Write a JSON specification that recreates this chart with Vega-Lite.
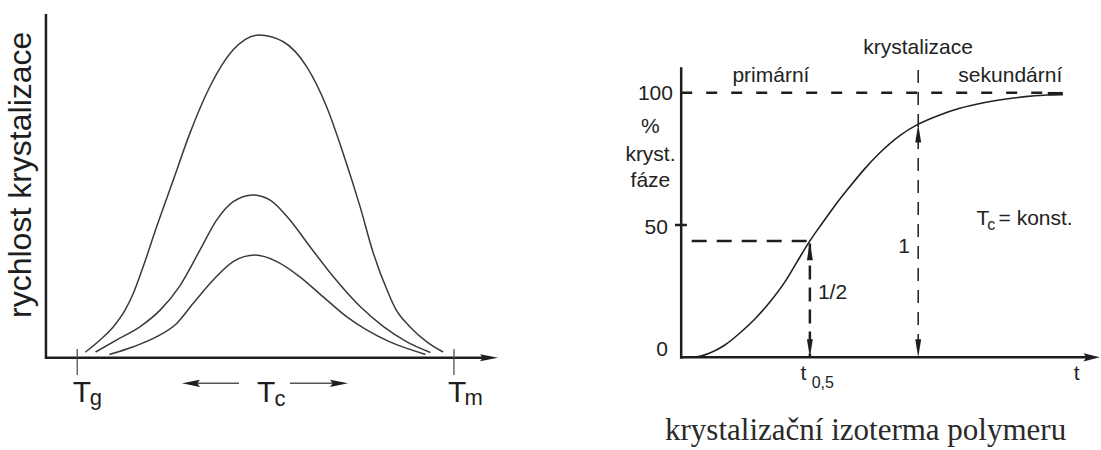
{
  "$schema": "https://vega.github.io/schema/vega-lite/v6.json",
  "background": "white",
  "padding": 0,
  "spacing": 0,
  "config": {"view": {"stroke": null}, "font": "Liberation Sans"},
  "resolve": {"scale": {"shape": "independent"}},
  "hconcat": [
    {
      "width": 550,
      "height": 450,
      "encoding": {
        "x": {"field": "temp", "type": "quantitative", "scale": {"domain": [-20.5, 125.5], "nice": false, "zero": false}, "axis": null},
        "y": {"field": "rate", "type": "quantitative", "scale": {"domain": [-28.5, 110.5], "nice": false, "zero": false}, "axis": null}
      },
      "layer": [
        {
          "data": {"values": [
            {"curve": "A", "temp": 2.3, "rate": 1.85}, {"curve": "A", "temp": 6.05, "rate": 5.5}, {"curve": "A", "temp": 9.6, "rate": 9.6}, {"curve": "A", "temp": 12.7, "rate": 14.7}, {"curve": "A", "temp": 14.9, "rate": 19.9}, {"curve": "A", "temp": 17.5, "rate": 28.1}, {"curve": "A", "temp": 21.1, "rate": 40.5}, {"curve": "A", "temp": 25.5, "rate": 54.9}, {"curve": "A", "temp": 29.9, "rate": 69.3}, {"curve": "A", "temp": 35.2, "rate": 83.7}, {"curve": "A", "temp": 41.4, "rate": 95.1}, {"curve": "A", "temp": 48.3, "rate": 99.7}, {"curve": "A", "temp": 54.7, "rate": 97.6}, {"curve": "A", "temp": 60.9, "rate": 89.9}, {"curve": "A", "temp": 66.2, "rate": 77.5}, {"curve": "A", "temp": 70.6, "rate": 63.1}, {"curve": "A", "temp": 75.1, "rate": 46.6}, {"curve": "A", "temp": 78.6, "rate": 32.3}, {"curve": "A", "temp": 82.6, "rate": 19.9}, {"curve": "A", "temp": 84.4, "rate": 15.3}, {"curve": "A", "temp": 88.3, "rate": 9.6}, {"curve": "A", "temp": 92.8, "rate": 4.9}, {"curve": "A", "temp": 97.0, "rate": 1.85},
            {"curve": "B", "temp": 5.0, "rate": 1.85}, {"curve": "B", "temp": 10.5, "rate": 5.5}, {"curve": "B", "temp": 16.7, "rate": 9.6}, {"curve": "B", "temp": 22.0, "rate": 14.7}, {"curve": "B", "temp": 27.3, "rate": 22.3}, {"curve": "B", "temp": 32.6, "rate": 33.3}, {"curve": "B", "temp": 37.0, "rate": 42.5}, {"curve": "B", "temp": 41.4, "rate": 48.2}, {"curve": "B", "temp": 46.6, "rate": 50.3}, {"curve": "B", "temp": 51.2, "rate": 48.7}, {"curve": "B", "temp": 56.5, "rate": 42.5}, {"curve": "B", "temp": 61.8, "rate": 34.3}, {"curve": "B", "temp": 68.0, "rate": 25.0}, {"curve": "B", "temp": 75.1, "rate": 15.8}, {"curve": "B", "temp": 81.3, "rate": 9.6}, {"curve": "B", "temp": 87.5, "rate": 4.9}, {"curve": "B", "temp": 93.6, "rate": 1.7},
            {"curve": "C", "temp": 8.7, "rate": 1.05}, {"curve": "C", "temp": 14.9, "rate": 3.4}, {"curve": "C", "temp": 21.1, "rate": 6.5}, {"curve": "C", "temp": 26.4, "rate": 10.6}, {"curve": "C", "temp": 30.8, "rate": 16.8}, {"curve": "C", "temp": 36.1, "rate": 24.0}, {"curve": "C", "temp": 41.4, "rate": 29.7}, {"curve": "C", "temp": 47.2, "rate": 31.7}, {"curve": "C", "temp": 53.0, "rate": 29.7}, {"curve": "C", "temp": 59.1, "rate": 25.0}, {"curve": "C", "temp": 65.3, "rate": 18.8}, {"curve": "C", "temp": 71.5, "rate": 12.7}, {"curve": "C", "temp": 76.8, "rate": 8.6}, {"curve": "C", "temp": 83.0, "rate": 4.9}, {"curve": "C", "temp": 92.3, "rate": 1.1}
          ]},
          "mark": {"type": "line", "interpolate": "monotone", "stroke": "#3a3a3a", "strokeWidth": 1.5, "strokeCap": "round"},
          "encoding": {"detail": {"field": "curve"}}
        },
        {
          "data": {"values": [
            {"temp": -8.3, "temp2": -8.3, "rate": -0.4, "rate2": 106.2},
            {"temp": -8.3, "temp2": 109.5, "rate": 0, "rate2": 0}
          ]},
          "mark": {"type": "rule", "stroke": "#1e1e1e", "strokeWidth": 2.5},
          "encoding": {"x2": {"field": "temp2"}, "y2": {"field": "rate2"}}
        },
        {
          "data": {"values": [
            {"temp": 0, "temp2": 0, "rate": 2.7, "rate2": -5.3},
            {"temp": 100, "temp2": 100, "rate": 2.7, "rate2": -5.3}
          ]},
          "mark": {"type": "rule", "stroke": "#444444", "strokeWidth": 1.2},
          "encoding": {"x2": {"field": "temp2"}, "y2": {"field": "rate2"}}
        },
        {
          "data": {"values": [
            {"temp": 29.5, "temp2": 42.95, "rate": -7.9, "rate2": -7.9},
            {"temp": 56.48, "temp2": 70.0, "rate": -7.9, "rate2": -7.9}
          ]},
          "mark": {"type": "rule", "stroke": "#555555", "strokeWidth": 1.5},
          "encoding": {"x2": {"field": "temp2"}, "y2": {"field": "rate2"}}
        },
        {
          "data": {"values": [
            {"temp": 111.7, "rate": 0, "dir": "right"},
            {"temp": 27.81, "rate": -7.9, "dir": "left"},
            {"temp": 71.88, "rate": -7.9, "dir": "right"}
          ]},
          "mark": {"type": "point", "filled": true, "opacity": 1, "size": 324, "color": "#1e1e1e", "strokeWidth": 0},
          "encoding": {"shape": {"field": "dir", "type": "nominal", "legend": null, "scale": {"domain": ["left", "right"], "range": ["M0,0L2,-0.4L1.7,0L2,0.4Z", "M0,0L-2,-0.4L-1.7,0L-2,0.4Z"]}}}
        },
        {
          "data": {"values": [{"temp": -12.3, "rate": 56.5, "label": "rychlost krystalizace"}]},
          "mark": {"type": "text", "angle": 270, "fontSize": 32, "align": "center", "baseline": "alphabetic", "color": "#1e1e1e"},
          "encoding": {"text": {"field": "label"}}
        },
        {
          "data": {"values": [
            {"temp": -1.2, "rate": -13.6, "label": "T"},
            {"temp": 47.7, "rate": -13.6, "label": "T"},
            {"temp": 98.4, "rate": -13.6, "label": "T"}
          ]},
          "mark": {"type": "text", "fontSize": 30, "align": "left", "baseline": "alphabetic", "color": "#1e1e1e"},
          "encoding": {"text": {"field": "label"}}
        },
        {
          "data": {"values": [
            {"temp": 3.3, "rate": -14.6, "label": "g"},
            {"temp": 52.4, "rate": -14.9, "label": "c"},
            {"temp": 102.8, "rate": -14.6, "label": "m"}
          ]},
          "mark": {"type": "text", "fontSize": 22, "align": "left", "baseline": "alphabetic", "color": "#1e1e1e"},
          "encoding": {"text": {"field": "label"}}
        }
      ]
    },
    {
      "width": 551,
      "height": 450,
      "encoding": {
        "x": {"field": "t", "type": "quantitative", "scale": {"domain": [-5.25, 16.8], "nice": false, "zero": false}, "axis": null},
        "y": {"field": "pct", "type": "quantitative", "scale": {"domain": [-35, 135], "nice": false, "zero": false}, "axis": null}
      },
      "layer": [
        {
          "data": {"values": [
            {"t": 0.42, "t2": 5.15, "pct": 44.0, "pct2": 44.0}
          ]},
          "mark": {"type": "rule", "stroke": "#1e1e1e", "strokeWidth": 2.5, "strokeDash": [15, 10]},
          "encoding": {"x2": {"field": "t2"}, "y2": {"field": "pct2"}}
        },
        {
          "data": {"values": [
            {"t": 0, "t2": 14.67, "pct": 100, "pct2": 100}
          ]},
          "mark": {"type": "rule", "stroke": "#1e1e1e", "strokeWidth": 2.5, "strokeDash": [11, 14]},
          "encoding": {"x2": {"field": "t2"}, "y2": {"field": "pct2"}}
        },
        {
          "data": {"values": [
            {"t": 5.15, "t2": 5.15, "pct": 43.0, "pct2": 0}
          ]},
          "mark": {"type": "rule", "stroke": "#1e1e1e", "strokeWidth": 2.5, "strokeDash": [14, 8]},
          "encoding": {"x2": {"field": "t2"}, "y2": {"field": "pct2"}}
        },
        {
          "data": {"values": [
            {"t": 9.485, "t2": 9.485, "pct": 108.6, "pct2": 0}
          ]},
          "mark": {"type": "rule", "stroke": "#1e1e1e", "strokeWidth": 1.5, "strokeDash": [13, 9]},
          "encoding": {"x2": {"field": "t2"}, "y2": {"field": "pct2"}}
        },
        {
          "data": {"values": [
            {"t": 0, "pct": 0}, {"t": 0.55, "pct": 0.13}, {"t": 1.15, "pct": 1.64}, {"t": 1.75, "pct": 4.66}, {"t": 2.35, "pct": 9.2}, {"t": 2.95, "pct": 14.5}, {"t": 3.55, "pct": 20.9}, {"t": 4.15, "pct": 28.5}, {"t": 4.63, "pct": 36.0}, {"t": 5.15, "pct": 44.0}, {"t": 5.63, "pct": 50.5}, {"t": 6.15, "pct": 57.3}, {"t": 6.75, "pct": 64.5}, {"t": 7.35, "pct": 71.3}, {"t": 7.95, "pct": 77.3}, {"t": 8.75, "pct": 83.8}, {"t": 9.47, "pct": 88.0}, {"t": 10.35, "pct": 91.6}, {"t": 11.15, "pct": 94.1}, {"t": 12.15, "pct": 96.3}, {"t": 13.15, "pct": 97.8}, {"t": 14.15, "pct": 98.8}, {"t": 15.27, "pct": 99.4}
          ]},
          "mark": {"type": "line", "interpolate": "monotone", "stroke": "#222222", "strokeWidth": 1.6},
          "encoding": {}
        },
        {
          "data": {"values": [
            {"t": 14.67, "t2": 15.27, "pct": 99.6, "pct2": 99.6}
          ]},
          "mark": {"type": "rule", "stroke": "#1e1e1e", "strokeWidth": 3.5},
          "encoding": {"x2": {"field": "t2"}, "y2": {"field": "pct2"}}
        },
        {
          "data": {"values": [
            {"t": 0, "t2": 0, "pct": -0.5, "pct2": 109.6},
            {"t": 0, "t2": 16.3, "pct": 0, "pct2": 0},
            {"t": -0.25, "t2": 0.23, "pct": 50, "pct2": 50}
          ]},
          "mark": {"type": "rule", "stroke": "#1e1e1e", "strokeWidth": 2.5},
          "encoding": {"x2": {"field": "t2"}, "y2": {"field": "pct2"}}
        },
        {
          "data": {"values": [
            {"t": 16.75, "pct": 0, "dir": "right"},
            {"t": 5.15, "pct": 43.5, "dir": "up"},
            {"t": 5.15, "pct": 0, "dir": "down"},
            {"t": 9.485, "pct": 88.0, "dir": "up"},
            {"t": 9.485, "pct": 0, "dir": "down"}
          ]},
          "mark": {"type": "point", "filled": true, "opacity": 1, "size": 324, "color": "#1e1e1e", "strokeWidth": 0},
          "encoding": {"shape": {"field": "dir", "type": "nominal", "legend": null, "scale": {"domain": ["right", "up", "down"], "range": ["M0,0L-1.8,-0.45L-1.5,0L-1.8,0.45Z", "M0,0L0.33,2L-0.33,2Z", "M0,0L0.33,-2L-0.33,-2Z"]}}}
        },
        {
          "data": {"values": [
            {"t": -1.23, "pct": 84.8, "label": "%"},
            {"t": -1.23, "pct": 74.2, "label": "kryst."},
            {"t": -1.23, "pct": 64.2, "label": "fáze"},
            {"t": 3.59, "pct": 104.0, "label": "primární"},
            {"t": 9.48, "pct": 114.5, "label": "krystalizace"},
            {"t": 13.17, "pct": 104.1, "label": "sekundární"},
            {"t": 15.83, "pct": -8.6, "label": "t"},
            {"t": 4.89, "pct": -8.6, "label": "t"}
          ]},
          "mark": {"type": "text", "fontSize": 21, "align": "center", "baseline": "alphabetic", "color": "#222222"},
          "encoding": {"text": {"field": "label"}}
        },
        {
          "data": {"values": [
            {"t": -0.33, "pct": 99.5, "label": "100"},
            {"t": -0.53, "pct": 48.8, "label": "50"},
            {"t": -0.53, "pct": 2.8, "label": "0"},
            {"t": 9.15, "pct": 41.7, "label": "1"}
          ]},
          "mark": {"type": "text", "fontSize": 21, "align": "right", "baseline": "middle", "color": "#222222"},
          "encoding": {"text": {"field": "label"}}
        },
        {
          "data": {"values": [
            {"t": 5.47, "pct": 24.3, "label": "1/2"}
          ]},
          "mark": {"type": "text", "fontSize": 21, "align": "left", "baseline": "middle", "color": "#222222"},
          "encoding": {"text": {"field": "label"}}
        },
        {
          "data": {"values": [
            {"t": 11.82, "pct": 50.0, "label": "T"},
            {"t": 12.7, "pct": 50.0, "label": "= konst."}
          ]},
          "mark": {"type": "text", "fontSize": 21, "align": "left", "baseline": "alphabetic", "color": "#222222"},
          "encoding": {"text": {"field": "label"}}
        },
        {
          "data": {"values": [
            {"t": 12.25, "pct": 48.1, "label": "c"},
            {"t": 5.22, "pct": -11.6, "label": "0,5"}
          ]},
          "mark": {"type": "text", "fontSize": 16, "align": "left", "baseline": "alphabetic", "color": "#222222"},
          "encoding": {"text": {"field": "label"}}
        },
        {
          "data": {"values": [
            {"t": 7.38, "pct": -31.2, "label": "krystalizační izoterma polymeru"}
          ]},
          "mark": {"type": "text", "font": "Liberation Serif", "fontSize": 31, "align": "center", "baseline": "alphabetic", "color": "#2a2a2a"},
          "encoding": {"text": {"field": "label"}}
        }
      ]
    }
  ]
}
